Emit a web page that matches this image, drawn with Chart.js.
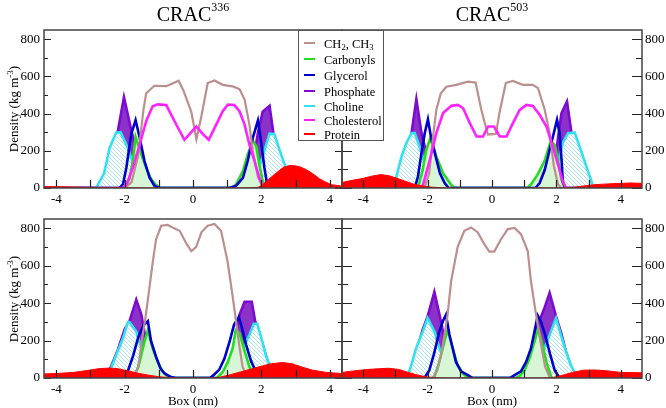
<!DOCTYPE html>
<html>
<head>
<meta charset="utf-8">
<script src="https://cdn.jsdelivr.net/npm/chart.js@4.4.1/dist/chart.umd.min.js"></script>
<style>
  body { margin: 0; width: 666px; height: 408px; position: relative; background: #fff; overflow: hidden;
         font-family: "Liberation Serif", "Times New Roman", serif; color: #000; }
  canvas { position: absolute; left: 0; top: 0; }
  .title { position: absolute; top: 4px; font-size: 20px; line-height: 20px; text-align: center; white-space: nowrap; }
  .title span { font-size: 12px; position: relative; top: -10px; }
  .xlab { position: absolute; top: 393px; font-size: 13px; line-height: 16px; text-align: center; }
  .ylab { position: absolute; width: 160px; height: 16px; line-height: 16px; font-size: 13px; text-align: center;
          transform: rotate(-90deg); white-space: nowrap; }
  .ylab sup { font-size: 9px; }
  #legend { position: absolute; left: 298px; top: 30px; width: 86px; height: 111px; border: 1.5px solid #555;
            background: #fff; box-sizing: border-box; }
  #legend div { position: absolute; left: 0; height: 14px; line-height: 14px; font-size: 12.5px; white-space: nowrap; }
  #legend i { display: inline-block; width: 11px; height: 2px; margin: 0 9px 4px 5px; vertical-align: middle; }
  #legend sub { font-size: 8.5px; vertical-align: -2px; }
</style>
</head>
<body>
<canvas id="tl" width="666" height="408"></canvas>
<canvas id="tr" width="666" height="408"></canvas>
<canvas id="bl" width="666" height="408"></canvas>
<canvas id="br" width="666" height="408"></canvas>

<div class="title" style="left:44px;width:298px">CRAC<span>336</span></div>
<div class="title" style="left:342px;width:300px">CRAC<span>503</span></div>
<div class="xlab" style="left:44px;width:298px">Box (nm)</div>
<div class="xlab" style="left:342px;width:300px">Box (nm)</div>
<div class="ylab" style="left:-70px;top:101px">Density (kg m<sup>-3</sup>)</div>
<div class="ylab" style="left:-70px;top:291px">Density (kg m<sup>-3</sup>)</div>

<div id="legend"></div>

<script>
// tick labels
const xTickLabels = [-4, -2, 0, 2, 4];
const yTickLabels = [0, 200, 400, 600, 800];

// legend
const seriesNames = ['CH2, CH3', 'Carbonyls', 'Glycerol', 'Phosphate', 'Choline', 'Cholesterol', 'Protein'];
const seriesColors = ['#bc8f8f', '#22dd22', '#0000cc', '#7d0ad0', '#33e0f0', '#ff22ff', '#ff0000'];

// ---- CRAC336, top left : [x (nm), density]
const tlCh2 = [[-4.36,0],[-2.0,0],[-1.8,30],[-1.61,170],[-1.45,420],[-1.37,510],[-1.13,550],[-0.78,548],[-0.42,577],[-0.28,525],[-0.05,410],[0.1,262],[0.25,390],[0.43,565],[0.63,578],[0.87,555],[1.16,547],[1.36,532],[1.51,476],[1.65,341],[1.75,199],[1.9,60],[2.05,0],[4.36,0]];
const tlCarb = [[-4.36,0],[-2.0,0],[-1.86,50],[-1.76,145],[-1.68,275],[-1.51,180],[-1.37,109],[-1.22,46],[-1.08,15],[-0.95,0],[1.1,0],[1.26,19],[1.46,91],[1.6,180],[1.75,255],[1.85,225],[1.94,127],[2.04,38],[2.15,0],[4.36,0]];
const tlGly = [[-4.36,0],[-2.15,0],[-2.05,19],[-1.95,109],[-1.81,288],[-1.68,365],[-1.56,270],[-1.42,145],[-1.27,55],[-1.13,12],[-1.0,0],[1.05,0],[1.26,11],[1.46,55],[1.6,145],[1.75,270],[1.9,363],[1.99,252],[2.09,109],[2.17,19],[2.25,0],[4.36,0]];
const tlPhos = [[-4.36,0],[-2.75,0],[-2.55,40],[-2.4,150],[-2.2,305],[-2.02,489],[-1.81,313],[-1.66,206],[-1.5,80],[-1.35,15],[-1.2,0],[1.45,0],[1.6,40],[1.77,152],[1.9,297],[2.04,411],[2.24,442],[2.35,297],[2.5,150],[2.65,50],[2.8,0],[4.36,0]];
const tlCholine = [[-4.36,0],[-2.85,0],[-2.78,18],[-2.6,80],[-2.44,216],[-2.25,297],[-2.12,300],[-1.91,216],[-1.71,109],[-1.56,28],[-1.45,0],[1.7,0],[1.85,60],[2.04,170],[2.24,292],[2.38,290],[2.53,206],[2.7,116],[2.82,35],[2.9,0],[4.36,0]];
const tlCholest = [[-4.36,0],[-2.05,0],[-1.94,20],[-1.76,110],[-1.56,234],[-1.37,360],[-1.18,440],[-1.03,450],[-0.78,446],[-0.64,395],[-0.44,324],[-0.25,259],[-0.05,300],[0.1,331],[0.29,290],[0.46,259],[0.68,341],[0.87,413],[1.02,449],[1.21,446],[1.36,413],[1.51,341],[1.65,234],[1.8,145],[1.94,55],[2.04,11],[2.15,0],[4.36,0]];
const tlProtein = [[-4.36,8],[-3.5,5],[-3.0,3],[-2.5,2],[-2.0,2],[-1.5,0],[1.5,0],[1.9,3],[2.04,18],[2.2,45],[2.43,80],[2.65,112],[2.85,122],[3.1,116],[3.3,100],[3.5,78],[3.7,50],[3.85,35],[4.05,18],[4.36,10]];

// ---- CRAC503, top right
const trCh2 = [[-4.66,0],[-2.1,0],[-1.95,80],[-1.83,280],[-1.73,420],[-1.59,510],[-1.42,545],[-1.11,555],[-0.75,572],[-0.51,567],[-0.33,420],[-0.13,288],[0.12,291],[0.25,420],[0.43,565],[0.65,576],[0.96,555],[1.27,555],[1.43,537],[1.64,420],[1.79,295],[1.92,120],[2.05,20],[2.15,0],[4.66,0]];
const trCarb = [[-4.66,0],[-2.3,0],[-2.15,100],[-2.05,200],[-1.93,262],[-1.83,230],[-1.73,170],[-1.52,80],[-1.31,27],[-1.2,5],[-1.1,0],[1.1,0],[1.21,19],[1.42,73],[1.63,145],[1.83,255],[1.95,230],[2.05,150],[2.15,50],[2.25,0],[4.66,0]];
const trGly = [[-4.66,0],[-2.4,0],[-2.3,62],[-2.19,188],[-2.09,295],[-1.99,370],[-1.88,259],[-1.75,170],[-1.62,80],[-1.47,27],[-1.35,0],[1.35,0],[1.48,27],[1.64,98],[1.79,206],[1.92,295],[2.02,367],[2.1,295],[2.16,152],[2.2,35],[2.28,0],[4.66,0]];
const trPhos = [[-4.66,0],[-3.0,0],[-2.85,60],[-2.7,160],[-2.5,295],[-2.35,478],[-2.19,295],[-2.04,188],[-1.93,116],[-1.8,40],[-1.65,0],[1.65,0],[1.79,45],[1.89,116],[2.0,206],[2.1,331],[2.16,403],[2.33,465],[2.47,295],[2.65,160],[2.8,60],[2.95,0],[4.66,0]];
const trCholine = [[-4.66,0],[-3.05,0],[-2.97,62],[-2.81,170],[-2.66,242],[-2.5,295],[-2.4,295],[-2.25,223],[-2.09,134],[-1.93,62],[-1.78,18],[-1.7,0],[1.75,0],[1.84,35],[1.95,80],[2.1,170],[2.2,242],[2.36,295],[2.57,298],[2.72,223],[2.93,116],[3.09,35],[3.15,0],[4.66,0]];
const trCholest = [[-4.66,0],[-2.25,0],[-2.14,18],[-1.93,152],[-1.73,295],[-1.52,403],[-1.26,442],[-1.06,447],[-0.9,430],[-0.69,349],[-0.48,277],[-0.28,277],[-0.12,331],[0.06,331],[0.24,277],[0.45,277],[0.65,349],[0.86,420],[1.07,447],[1.27,442],[1.48,394],[1.69,331],[1.89,223],[2.1,98],[2.2,35],[2.3,0],[4.66,0]];
const trProtein = [[-4.66,30],[-4.38,40],[-4.0,52],[-3.7,65],[-3.45,72],[-3.2,66],[-2.95,52],[-2.72,38],[-2.45,22],[-2.2,12],[-1.9,5],[-1.5,1],[-1.2,0],[2.3,0],[2.6,5],[2.9,12],[3.2,18],[3.6,22],[4.0,25],[4.3,27],[4.66,25]];

// ---- CRAC336, bottom left
const blCh2 = [[-4.36,0],[-1.75,0],[-1.6,60],[-1.5,200],[-1.4,311],[-1.32,419],[-1.18,617],[-1.08,742],[-0.93,814],[-0.74,818],[-0.55,800],[-0.39,787],[-0.2,720],[-0.05,678],[0.09,700],[0.25,780],[0.43,814],[0.63,823],[0.82,787],[1.01,625],[1.16,437],[1.26,302],[1.35,180],[1.45,60],[1.6,0],[4.36,0]];
const blCarb = [[-4.36,0],[-1.75,0],[-1.6,60],[-1.42,194],[-1.32,255],[-1.18,158],[-1.03,86],[-0.88,32],[-0.75,8],[-0.65,0],[0.7,0],[0.87,32],[1.02,86],[1.16,158],[1.25,255],[1.36,240],[1.5,150],[1.65,60],[1.8,0],[4.36,0]];
const blGly = [[-4.36,0],[-2.05,0],[-1.9,40],[-1.75,120],[-1.6,220],[-1.45,280],[-1.32,304],[-1.23,200],[-1.08,113],[-0.95,50],[-0.83,24],[-0.64,5],[-0.5,0],[0.5,0],[0.63,20],[0.77,45],[0.92,104],[1.07,194],[1.2,284],[1.34,325],[1.41,284],[1.55,180],[1.7,90],[1.85,30],[2.0,0],[4.36,0]];
const blPhos = [[-4.36,0],[-2.6,0],[-2.4,60],[-2.2,150],[-2.0,260],[-1.86,302],[-1.66,419],[-1.51,338],[-1.37,194],[-1.23,104],[-1.08,32],[-0.95,0],[0.95,0],[1.07,51],[1.16,122],[1.26,230],[1.36,338],[1.51,408],[1.72,408],[1.82,302],[2.0,200],[2.2,80],[2.4,0],[4.36,0]];
const blCholine = [[-4.36,0],[-2.5,0],[-2.44,20],[-2.39,55],[-2.25,122],[-2.05,212],[-1.91,298],[-1.86,299],[-1.66,248],[-1.51,158],[-1.37,86],[-1.23,32],[-1.1,0],[1.1,0],[1.21,32],[1.31,86],[1.46,158],[1.65,230],[1.78,290],[1.88,290],[2.03,194],[2.13,122],[2.26,59],[2.33,15],[2.4,0],[4.36,0]];
const blProtein = [[-4.36,22],[-4.0,24],[-3.5,30],[-3.1,40],[-2.75,50],[-2.45,53],[-2.2,50],[-1.9,38],[-1.6,25],[-1.3,15],[-1.0,7],[-0.7,2],[-0.4,0],[0.5,0],[0.8,5],[1.1,18],[1.5,38],[1.9,58],[2.25,75],[2.62,83],[2.9,76],[3.2,58],[3.5,42],[3.9,30],[4.36,24]];

// ---- CRAC503, bottom right
const brCh2 = [[-4.66,0],[-1.85,0],[-1.7,40],[-1.55,150],[-1.45,260],[-1.38,338],[-1.27,518],[-1.07,698],[-0.86,787],[-0.65,805],[-0.44,778],[-0.24,715],[-0.08,676],[0.07,676],[0.28,742],[0.49,796],[0.7,802],[0.9,769],[1.11,679],[1.21,518],[1.32,392],[1.37,338],[1.5,200],[1.65,60],[1.8,0],[4.66,0]];
const brCarb = [[-4.66,0],[-1.8,0],[-1.65,80],[-1.48,194],[-1.38,257],[-1.22,158],[-1.07,68],[-0.91,24],[-0.78,5],[-0.7,0],[0.75,0],[0.88,15],[1.01,41],[1.16,104],[1.32,194],[1.43,266],[1.55,190],[1.7,80],[1.85,0],[4.66,0]];
const brGly = [[-4.66,0],[-2.1,0],[-1.95,40],[-1.8,130],[-1.65,240],[-1.53,302],[-1.43,338],[-1.32,230],[-1.22,158],[-1.12,86],[-0.96,36],[-0.75,15],[-0.6,0],[0.55,0],[0.7,15],[0.9,36],[1.06,86],[1.21,158],[1.32,248],[1.42,334],[1.52,302],[1.65,230],[1.8,130],[1.95,40],[2.1,0],[4.66,0]];
const brPhos = [[-4.66,0],[-2.6,0],[-2.45,70],[-2.3,170],[-2.15,260],[-2.0,329],[-1.79,460],[-1.63,338],[-1.48,212],[-1.32,122],[-1.17,51],[-1.05,0],[1.0,0],[1.11,41],[1.21,104],[1.32,194],[1.42,284],[1.63,374],[1.79,455],[1.99,329],[2.15,240],[2.3,140],[2.45,60],[2.6,0],[4.66,0]];
const brCholine = [[-4.66,0],[-2.65,0],[-2.56,40],[-2.51,68],[-2.36,158],[-2.15,248],[-2.0,320],[-1.79,248],[-1.63,158],[-1.48,86],[-1.27,24],[-1.15,0],[1.15,0],[1.26,32],[1.42,86],[1.63,158],[1.83,248],[1.99,320],[2.14,230],[2.3,140],[2.45,68],[2.6,20],[2.68,0],[4.66,0]];
const brProtein = [[-4.66,30],[-4.3,38],[-3.9,45],[-3.5,50],[-3.2,52],[-2.9,46],[-2.6,30],[-2.3,15],[-2.0,5],[-1.7,1],[-1.4,0],[1.6,0],[1.9,3],[2.2,15],[2.5,30],[2.85,42],[3.2,43],[3.6,38],[4.0,30],[4.66,28]];

// legend box
document.getElementById('legend').innerHTML = seriesNames.map((n, i) => {
  const top = [6, 22, 38, 54, 69, 83, 97][i];
  const label = i === 0 ? 'CH<sub>2</sub>, CH<sub>3</sub>' : n;
  return `<div style="top:${top}px"><i style="background:${seriesColors[i]}"></i>${label}</div>`;
}).join('');

function hatch(color) {
  const c = document.createElement('canvas');
  c.width = c.height = 4;
  const g = c.getContext('2d');
  g.fillStyle = '#fff';
  g.fillRect(0, 0, 4, 4);
  g.strokeStyle = color;
  g.lineWidth = 0.8;
  g.beginPath();
  g.moveTo(-1, -1); g.lineTo(5, 5);
  g.moveTo(-1, 3); g.lineTo(1, 5);
  g.moveTo(3, -1); g.lineTo(5, 1);
  g.stroke();
  return g.createPattern(c, 'repeat');
}
const cyanHatch = hatch('#8fe0ee');

const pts = arr => arr.map(([x, y]) => ({x, y}));

// frame + inward tick marks
const frameTicks = {
  id: 'frameTicks',
  afterDatasetsDraw(chart, args, o) {
    const {ctx, chartArea: a, scales: {x, y}} = chart;
    ctx.save();
    ctx.strokeStyle = '#222';
    ctx.lineWidth = 1.2;
    ctx.beginPath();
    y.ticks.forEach(t => {
      const py = Math.round(y.getPixelForValue(t.value)) + 0.5;
      const len = yTickLabels.includes(t.value) ? o.major : o.minor;
      ctx.moveTo(a.left, py); ctx.lineTo(a.left + len, py);
      ctx.moveTo(a.right, py); ctx.lineTo(a.right - len, py);
    });
    x.ticks.forEach(t => {
      const px = Math.round(x.getPixelForValue(t.value)) + 0.5;
      ctx.moveTo(px, a.bottom); ctx.lineTo(px, a.bottom - 8);
    });
    ctx.stroke();
    ctx.strokeStyle = '#444';
    ctx.lineWidth = 1.5;
    ctx.strokeRect(a.left, a.top, a.right - a.left, a.bottom - a.top);
    ctx.restore();
  }
};

function panel(id, s, side, xr, padding, tick) {
  const font = {family: 'Liberation Serif', size: 13};
  const line = (data, color, extra) => Object.assign({
    data: pts(data), borderColor: color, borderWidth: 2.6, pointRadius: 0, tension: 0, fill: false
  }, extra);
  const datasets = [
    line(s.protein, '#ff0000', {fill: 'origin', backgroundColor: '#ff0000', borderWidth: 1, order: 0})
  ];
  if (s.cholest) datasets.push(line(s.cholest, '#ff22ff', {order: 1}));
  datasets.push(
    line(s.ch2, '#bc8f8f', {borderWidth: 2.2, order: 2}),
    line(s.gly, '#0000cc', {order: 3}),
    line(s.carb, '#22dd22', {fill: 'origin', backgroundColor: '#d6f6d6', order: 4}),
    line(s.choline, '#33e0f0', {fill: 'origin', backgroundColor: cyanHatch, order: 5}),
    line(s.phos, '#7d0ad0', {fill: 'origin', backgroundColor: '#8b32c8', order: 6})
  );
  new Chart(document.getElementById(id), {
    type: 'line',
    data: {datasets},
    plugins: [frameTicks],
    options: {
      responsive: false,
      animation: false,
      events: [],
      layout: {padding},
      plugins: {legend: {display: false}, tooltip: {enabled: false}, frameTicks: {major: tick[0], minor: tick[1]}},
      scales: {
        x: {
          type: 'linear', min: -xr, max: xr,
          grid: {display: false, drawTicks: false}, border: {display: false},
          ticks: {stepSize: 1, includeBounds: false, padding: 4, autoSkip: false, maxRotation: 0, font, color: '#000',
                  callback: v => xTickLabels.includes(v) ? String(v) : ''},
          afterFit: sc => { sc.height = 20; }
        },
        y: {
          type: 'linear', position: side, min: 0, max: 850,
          grid: {display: false, drawTicks: false}, border: {display: false},
          ticks: {stepSize: 100, includeBounds: false, padding: side === 'left' ? 4 : 3, autoSkip: false, font, color: '#000',
                  callback: v => yTickLabels.includes(v) ? String(v) : ''},
          afterFit: sc => { sc.width = side === 'left' ? 44 : 24; }
        }
      }
    }
  });
}

panel('tl', {ch2: tlCh2, carb: tlCarb, gly: tlGly, phos: tlPhos, choline: tlCholine, cholest: tlCholest, protein: tlProtein},
      'left', 4.36, {left: 0, right: 324, top: 30, bottom: 200}, [7, 4]);
panel('tr', {ch2: trCh2, carb: trCarb, gly: trGly, phos: trPhos, choline: trCholine, cholest: trCholest, protein: trProtein},
      'right', 4.66, {left: 342, right: 0, top: 30, bottom: 200}, [10, 6]);
panel('bl', {ch2: blCh2, carb: blCarb, gly: blGly, phos: blPhos, choline: blCholine, protein: blProtein},
      'left', 4.36, {left: 0, right: 324, top: 219, bottom: 10}, [7, 4]);
panel('br', {ch2: brCh2, carb: brCarb, gly: brGly, phos: brPhos, choline: brCholine, protein: brProtein},
      'right', 4.66, {left: 342, right: 0, top: 219, bottom: 10}, [10, 6]);
</script>
</body>
</html>
